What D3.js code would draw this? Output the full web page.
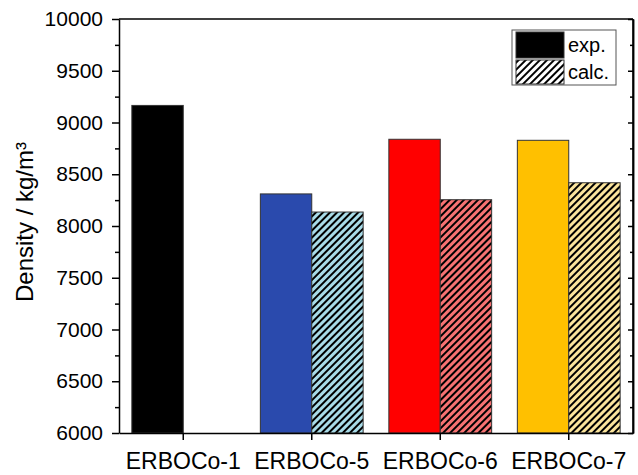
<!DOCTYPE html>
<meta charset="utf-8">
<style>
body { margin: 0; background: #fff; }
svg text { font-family: 'Liberation Sans', Arial, sans-serif; fill: #000; }
.axis path, .axis line { stroke: #000; stroke-width: 1.5px; }
.axis text { font-size: 21px; }
.xaxis text { font-size: 23px; }
</style>
<svg id="svg" width="638" height="475"></svg>
<script src="https://cdnjs.cloudflare.com/ajax/libs/d3/7.8.5/d3.min.js"></script>
<script>
// data
const categories = ['ERBOCo-1', 'ERBOCo-5', 'ERBOCo-6', 'ERBOCo-7'];
const expValues = [9165, 8310, 8838, 8828];
const calcValues = [null, 8135, 8254, 8418];
const expColors = ['#000000', '#2a4aad', '#ff0000', '#ffc000'];
const calcColors = ['#ffffff', '#a8dbe8', '#f77272', '#fbe49c'];
const yTicks = [6000, 6500, 7000, 7500, 8000, 8500, 9000, 9500, 10000];

const margin = {top: 19, right: 5, bottom: 42, left: 119};
const W = 638, H = 475;
const width = W - margin.left - margin.right,
      height = H - margin.top - margin.bottom;

const svg = d3.select('#svg');
const defs = svg.append('defs');

function hatch(id, bg) {
    let p = defs.append('pattern')
        .attr('id', id)
        .attr('patternUnits', 'userSpaceOnUse')
        .attr('width', 5).attr('height', 5)
        .attr('patternTransform', 'rotate(45)');
    p.append('rect').attr('width', 5).attr('height', 5).attr('fill', bg);
    p.append('line')
        .attr('x1', 1).attr('y1', 0).attr('x2', 1).attr('y2', 5)
        .attr('stroke', '#000').attr('stroke-width', 2);
}
calcColors.forEach((c, i) => hatch('hatch' + i, c));

const g = svg.append('g').attr('transform', translate(margin.left, margin.top));

const x = d3.scaleBand().domain(categories).range([0, width]).paddingInner(0.2).paddingOuter(0.1);
const y = d3.scaleLinear().domain([6000, 10000]).range([height, 0]);
const bw = x.bandwidth() / 2;

// bars
const grp = g.selectAll('.grp').data(categories).enter().append('g')
    .attr('transform', d => translate(x(d), 0));

grp.append('rect')
    .attr('x', 0)
    .attr('width', bw)
    .attr('y', (d, i) => y(expValues[i]))
    .attr('height', (d, i) => height - y(expValues[i]))
    .attr('fill', (d, i) => expColors[i])
    .attr('stroke', '#333').attr('stroke-width', 1);

grp.filter((d, i) => calcValues[i] != null).append('rect')
    .attr('x', bw)
    .attr('width', bw)
    .attr('y', d => y(calcValues[categories.indexOf(d)]))
    .attr('height', d => height - y(calcValues[categories.indexOf(d)]))
    .attr('fill', d => 'url(#hatch' + categories.indexOf(d) + ')')
    .attr('stroke', '#333').attr('stroke-width', 1);

// frame
g.append('line').attr('x1', 0).attr('x2', width).attr('y1', 0).attr('y2', 0)
    .attr('stroke', '#000').attr('stroke-width', 1.5);
g.append('line').attr('x1', width).attr('x2', width).attr('y1', 0).attr('y2', height)
    .attr('stroke', '#000').attr('stroke-width', 1.5);

// left axis: major + minor
g.append('g').attr('class', 'axis')
    .call(d3.axisLeft(y).tickValues(yTicks).tickSize(7).tickPadding(9).tickSizeOuter(0).tickFormat(d3.format('d')));
g.append('g').attr('class', 'axis')
    .call(d3.axisLeft(y).tickValues(yTicks.slice(1).map(v => v - 250)).tickSize(4).tickFormat('').tickSizeOuter(0))
    .select('.domain').remove();

// right axis mirror ticks (inward)
g.append('g').attr('class', 'axis').attr('transform', translate(width, 0))
    .call(d3.axisLeft(y).tickValues(yTicks).tickSize(-0).tickFormat(''))
    .selectAll('.tick line').attr('x2', -5);
g.append('g').attr('class', 'axis').attr('transform', translate(width, 0))
    .call(d3.axisLeft(y).tickValues(yTicks.slice(1).map(v => v - 250)).tickSize(0).tickFormat(''))
    .selectAll('.tick line').attr('x2', -3).attr('stroke', '#888');

// bottom axis
const xAxisG = g.append('g').attr('class', 'axis xaxis').attr('transform', translate(0, height))
    .call(d3.axisBottom(x).tickSize(7).tickPadding(13).tickSizeOuter(0));
xAxisG.selectAll('.tick').attr('transform', d => translate(x(d) + bw, 0));

// y title
svg.append('text')
    .attr('transform', 'rotate(-90)')
    .attr('x', -222)
    .attr('y', 33)
    .attr('text-anchor', 'middle')
    .style('font-size', '24px')
    .text('Density / kg/m³');

// legend
const leg = svg.append('g').attr('transform', translate(512, 30));
leg.append('rect').attr('width', 104).attr('height', 55)
    .attr('fill', '#fff').attr('stroke', '#555').attr('stroke-width', 1);
leg.append('rect').attr('x', 4).attr('y', 2).attr('width', 48).attr('height', 26)
    .attr('fill', '#000').attr('stroke', '#333');
leg.append('rect').attr('x', 4).attr('y', 30).attr('width', 48).attr('height', 24)
    .attr('fill', 'url(#hatch0)').attr('stroke', '#333');
leg.append('text').attr('x', 56).attr('y', 22).style('font-size', '20px').text('exp.');
leg.append('text').attr('x', 56).attr('y', 49).style('font-size', '20px').text('calc.');

function translate(a, b) {
    return 'translate(' + a + ',' + b + ')';
}
</script>
